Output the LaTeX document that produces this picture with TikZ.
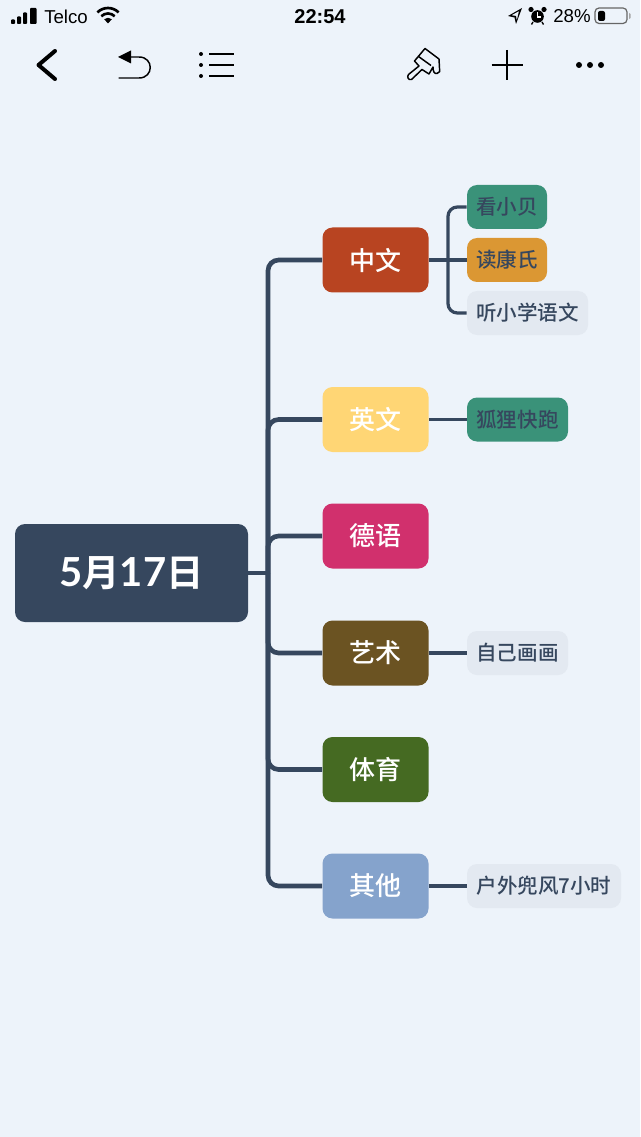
\documentclass[tikz,border=0pt]{standalone}
\usepackage{fontspec}
\setmainfont{Liberation Sans}
\newfontfamily\cjk{Noto Sans CJK SC Medium}
\newfontfamily\cjkb{Noto Sans CJK SC Bold}
\newfontfamily\latb{Lato Bold}
\definecolor{bgc}{HTML}{EDF3FA}
\definecolor{ink}{HTML}{36475E}
\definecolor{subgray}{HTML}{E3E9F1}
\definecolor{cred}{HTML}{B84421}
\definecolor{cyel}{HTML}{FFD675}
\definecolor{cpink}{HTML}{D1306D}
\definecolor{cbrown}{HTML}{6B5322}
\definecolor{cgreen}{HTML}{456A22}
\definecolor{cblue}{HTML}{85A3CC}
\definecolor{cteal}{HTML}{3A9279}
\definecolor{corange}{HTML}{DB9733}
\tikzset{
  x=0.75pt,y=-0.75pt,
  rootbox/.style={rounded corners=7.5pt,fill=ink,text=white,minimum width=174.75pt,minimum height=73.5pt,inner sep=0pt},
  topic/.style={fill=#1,rounded corners=7.5pt,text=white,minimum width=79.5pt,minimum height=48.75pt,inner sep=0pt,font=\cjk\fontsize{19.5pt}{22pt}\selectfont},
  leaf/.style={fill=#1,rounded corners=7.5pt,text=ink,minimum height=33pt,inner sep=0pt,font=\cjk\fontsize{15.4pt}{18pt}\selectfont},
  trunkline/.style={draw=ink,line width=3.5pt,rounded corners=8pt},
  branchline/.style={draw=ink,line width=2.4pt,rounded corners=7pt},
  icon/.style={draw=black,line width=1.1pt},
  status/.style={inner sep=0pt,text=black,font=\fontsize{14pt}{16pt}\selectfont},
}
\begin{document}
\begin{tikzpicture}
\useasboundingbox[fill=bgc] (0,0) rectangle (640,1137);
% nodes
\node[rootbox] (root) at (131.5,573) {\latb\fontsize{30pt}{34pt}\selectfont 5\cjkb\fontsize{28pt}{34pt}\selectfont 月\latb\fontsize{30pt}{34pt}\selectfont 17\cjkb\fontsize{28pt}{34pt}\selectfont 日};
\node[topic=cred] (t1) at (375.5,260) {中文};
\node[topic=cyel] (t2) at (375.5,419.5) {英文};
\node[topic=cpink] (t3) at (375.5,536) {德语};
\node[topic=cbrown] (t4) at (375.5,653) {艺术};
\node[topic=cgreen] (t5) at (375.5,769.5) {体育};
\node[topic=cblue] (t6) at (375.5,886) {其他};
\node[leaf=cteal,minimum width=60pt] (a1) at (507,207) {看小贝};
\node[leaf=corange,minimum width=60pt] (a2) at (507,260) {读康氏};
\node[leaf=subgray,minimum width=90.75pt] (a3) at (527.5,313) {听小学语文};
\node[leaf=cteal,minimum width=75.75pt] (b1) at (517.5,419.5) {狐狸快跑};
\node[leaf=subgray,minimum width=75.75pt] (d1) at (517.5,653) {自己画画};
\node[leaf=subgray,minimum width=115.5pt] (f1) at (544,886) {户外兜风7小时};
% connectors
\coordinate (tr) at (268,573);
\coordinate (br) at (448,260);
\draw[trunkline] (root.east) -- (tr);
\foreach \t in {t1,t2,t3,t4,t5,t6}{\draw[trunkline] (\t.west) -| (tr);}
\draw[branchline] (t1.east) -- (a2.west);
\draw[branchline] (a1.west) -| (br);
\draw[branchline] (a3.west) -| (br);
\draw[branchline] (t2.east) -- (b1.west);
\draw[branchline] (t4.east) -- (d1.west);
\draw[branchline] (t6.east) -- (f1.west);
% status bar
\fill[black,rounded corners=0.6pt] (11,19.5) rectangle (15,24);
\fill[black,rounded corners=0.6pt] (17,16.5) rectangle (21,24);
\fill[black,rounded corners=0.6pt] (23,12.5) rectangle (27,24);
\fill[black,rounded corners=0.6pt] (30,8) rectangle (36.5,24);
\node[status,anchor=west] (telco) at (44,16.5) {Telco};
\draw[black,line width=2pt] (97.4,12.4) .. controls (103.26,6.54) and (112.74,6.54) .. (118.6,12.4);
\draw[black,line width=2pt] (101.28,16.28) .. controls (104.99,12.57) and (111.01,12.57) .. (114.72,16.28);
\fill[black] (108,23.5) -- (104.2,19.2) .. controls (106.3,17.3) and (109.7,17.3) .. (111.8,19.2) -- cycle;
\node[status,font=\bfseries\fontsize{15pt}{16pt}\selectfont] (clock) at (320,16.5) {22:54};
\fill[black,even odd rule] (522,8) -- (516,24) -- (514.5,17.5) -- (508,16) -- cycle (519,11) -- (511.5,15.2) -- (516,16) -- (516.8,20.5) -- cycle;
\fill[black] (537.5,16.5) circle[radius=6.3];
\draw[white,line width=0.8pt] (537.5,12.5) -- (537.5,17) -- (541,17);
\fill[black] (531,9.5) circle[radius=2.6] (544,9.5) circle[radius=2.6];
\draw[black,line width=1pt] (533,22) -- (531.5,24.5) (542,22) -- (543.5,24.5);
\node[status,anchor=west] (pct) at (553,16.5) {28\%};
\draw[gray!80!black,line width=0.9pt,rounded corners=3pt] (595,8) rectangle (627,23.5);
\fill[black,rounded corners=1.5pt] (598,11) rectangle (605,21);
\fill[gray!70] (629,13) -- (630.5,14) -- (630.5,18) -- (629,19) -- cycle;
% toolbar
\draw[black,line width=3pt,line cap=round,line join=round] (55,51) -- (38.5,65) -- (55,79);
\fill[black] (118,57) -- (131,50.5) -- (131,63.5) -- cycle;
\draw[icon,line cap=round] (130,57) -- (139,57) .. controls (154,57) and (154,78) .. (139,78) -- (119,78);
\foreach \yy in {54,65,76}{
  \fill[black] (201,\yy) circle[radius=2];
  \draw[icon] (209,\yy) -- (233.5,\yy);
}
% paint brush
\draw[icon,line join=round] (425,48.5) -- (414.5,61) -- (419,66) -- (408.5,74.5)
  .. controls (406.5,77) and (408.5,80.5) .. (411.5,79.5) -- (422,69.5) -- (429,74) -- (433,67)
  .. controls (433,71) and (434,74) .. (437,73.5) .. controls (440,73) and (440,71) .. (439.5,68) -- (439,59) -- cycle;
\draw[icon] (418.5,56.5) -- (431,65.5);
\draw[icon,line width=1.2pt] (491.5,65) -- (522.5,65);
\draw[icon,line width=1.2pt] (507,50) -- (507,80.5);
\fill[black] (579,65) circle[radius=3] (590,65) circle[radius=3] (601,65) circle[radius=3];
\end{tikzpicture}
\end{document}
